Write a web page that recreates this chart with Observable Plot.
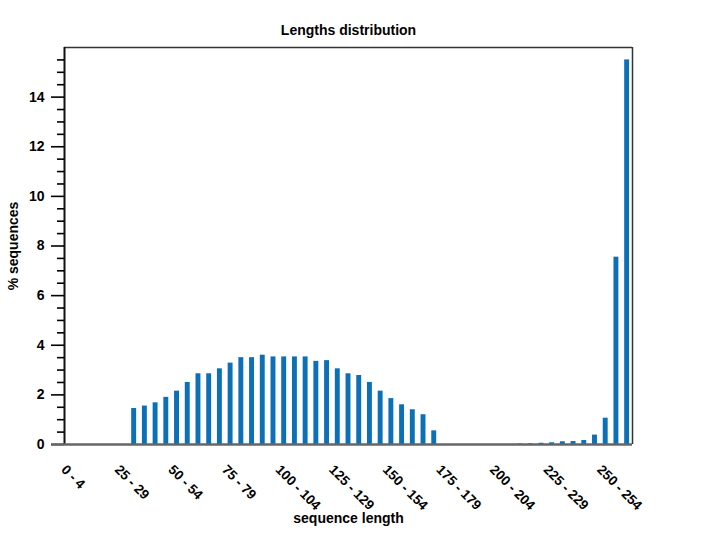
<!DOCTYPE html>
<html><head><meta charset="utf-8">
<script src="https://cdn.jsdelivr.net/npm/d3@7"></script>
<script src="https://cdn.jsdelivr.net/npm/@observablehq/plot@0.6"></script>
<style>body{margin:0;background:#fff} svg{display:block}</style>
</head><body><div id="chart"></div>
<script>
// % sequences per 5-length bin (bin index 0 = "0 - 4", 1 = "5 - 9", ... 52 = "260 - 264")
const percentages = [
  0, 0, 0, 0, 0, 0,
  1.45, 1.55, 1.68, 1.9, 2.15, 2.5, 2.85, 2.85, 3.05, 3.28,
  3.5, 3.5, 3.6, 3.53, 3.53, 3.53, 3.53, 3.35, 3.38, 3.05,
  2.85, 2.78, 2.5, 2.15, 1.85, 1.6, 1.4, 1.2, 0.55,
  0, 0, 0, 0, 0, 0, 0,
  0.02, 0.03, 0.05, 0.07, 0.11, 0.12, 0.16, 0.38, 1.06, 7.55, 15.5
];
const tickBins = [0, 5, 10, 15, 20, 25, 30, 35, 40, 45, 50];
const tickLabels = ["0 - 4", "25 - 29", "50 - 54", "75 - 79", "100 - 104", "125 - 129",
  "150 - 154", "175 - 179", "200 - 204", "225 - 229", "250 - 254"];
const majorYTicks = [0, 2, 4, 6, 8, 10, 12, 14];
const minorYTicks = [0.5, 1, 1.5, 2.5, 3, 3.5, 4.5, 5, 5.5, 6.5, 7, 7.5, 8.5, 9, 9.5,
  10.5, 11, 11.5, 12.5, 13, 13.5, 14.5, 15, 15.5];
const binCount = 53;
const yMax = 16;

const bars = percentages.map((v, i) => ({i, v})).filter(d => d.v > 0);
const ticks = tickLabels.map((label, k) => ({label, bin: tickBins[k]}));

const chart = Plot.plot({
  width: 702, height: 552,
  marginLeft: 64, marginRight: 70, marginTop: 47, marginBottom: 108,
  style: {fontFamily: "Liberation Sans, Arial, sans-serif", fontSize: "14px", color: "black", background: "white"},
  x: {domain: [0, binCount], axis: null},
  y: {domain: [0, yMax], axis: null},
  marks: [
    Plot.rectY(bars, {x1: "i", x2: d => d.i + 1, y: "v", fill: "#0b70b6", insetLeft: 2.9, insetRight: 2.9}),
    Plot.ruleY([yMax], {x1: 0, x2: binCount, stroke: "#333", strokeWidth: 1.5}),
    Plot.ruleX([binCount], {y1: 0, y2: yMax, stroke: "#333", strokeWidth: 1.5}),
    Plot.ruleX([0], {y1: 0, y2: yMax, stroke: "#111", strokeWidth: 2}),
    Plot.axisY({ticks: majorYTicks, tickSize: 13, tickPadding: 7, strokeWidth: 1.6,
      fontSize: 14, fontWeight: "bold", label: null}),
    Plot.axisY({ticks: minorYTicks, tickSize: 7, strokeWidth: 1.6, tickFormat: () => "", label: null}),
    Plot.ruleY([0], {x1: -1.2, x2: binCount, stroke: "#666", strokeWidth: 2.5}),
    Plot.text(ticks, {x: "bin", frameAnchor: "bottom", text: "label", rotate: 45,
      textAnchor: "start", lineAnchor: "middle", dx: -1, dy: 23, fontSize: 13.5, fontWeight: "bold"}),
    Plot.text(["Lengths distribution"], {frameAnchor: "top", lineAnchor: "middle", dy: -17, fontSize: 14, fontWeight: "bold"}),
    Plot.text(["sequence length"], {frameAnchor: "bottom", lineAnchor: "middle", dy: 74, fontSize: 14, fontWeight: "bold"}),
    Plot.text(["% sequences"], {frameAnchor: "left", textAnchor: "middle", lineAnchor: "middle", dx: -51, rotate: -90, fontSize: 14, fontWeight: "bold"})
  ]
});
document.getElementById("chart").appendChild(chart);
</script>
</body></html>
